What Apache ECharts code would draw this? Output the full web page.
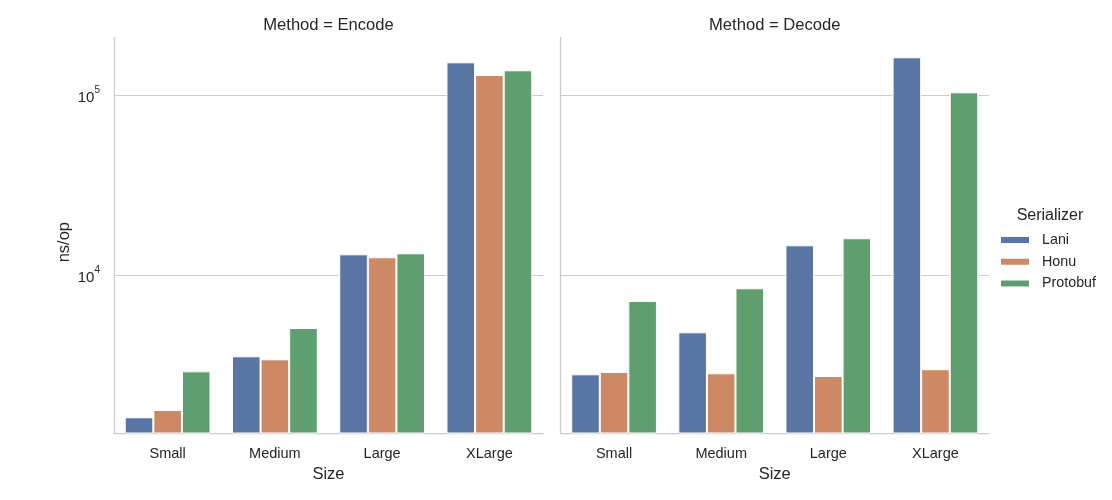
<!DOCTYPE html>
<html>
<head>
<meta charset="utf-8">
<script src="https://cdn.jsdelivr.net/npm/echarts@6/dist/echarts.min.js"></script>
<style>html,body{margin:0;padding:0;background:#fff}#c{width:1112px;height:500px}</style>
</head>
<body>
<div id="c"></div>
<script>
const sizes = ['Small', 'Medium', 'Large', 'XLarge'];
const serializers = ['Lani', 'Honu', 'Protobuf'];
const methods = ['Encode', 'Decode'];
const yTickExponents = [4, 5];

const encodeLani = [1626, 3548, 13080, 152500];
const encodeHonu = [1786, 3415, 12590, 129700];
const encodeProtobuf = [2929, 5096, 13250, 137700];

const decodeLani = [2818, 4823, 14680, 162600];
const decodeHonu = [2904, 2855, 2758, 3006];
const decodeProtobuf = [7195, 8470, 16060, 103900];

const colors = ['#5975a4', '#cc8963', '#5f9e6e'];
const font = 'Liberation Sans, Arial, sans-serif';
const textColor = '#262626';
const lineColor = '#cccccc';

const chart = echarts.init(document.getElementById('c'), null, { renderer: 'canvas' });

const grids = [
  { left: 114, top: 37.3, width: 429, height: 395.7 },
  { left: 560.5, top: 37.3, width: 428.5, height: 395.7 }
];

function yAxis(idx, showLabels) {
  return {
    type: 'log', logBase: 10, gridIndex: idx,
    min: 1330, max: 210000,
    name: showLabels ? 'ns/op' : '',
    nameLocation: 'middle', nameGap: 41,
    nameTextStyle: { fontFamily: font, fontSize: 16.5, color: textColor, padding: [0, 14, 0, 0] },
    axisLine: { show: true, lineStyle: { color: lineColor, width: 1.25 } },
    axisTick: { show: false },
    splitLine: { show: true, showMinLine: false, showMaxLine: false, lineStyle: { color: lineColor, width: 1 } },
    minorTick: { show: false },
    axisLabel: {
      show: showLabels, showMinLabel: false, showMaxLabel: false, margin: 14,
      fontFamily: font, color: textColor,
      formatter: function (v) {
        const l = Math.log10(v);
        const e = Math.round(l);
        if (Math.abs(l - e) > 1e-6 || yTickExponents.indexOf(e) < 0) return '';
        return '{b|10}{s|' + e + '}';
      },
      rich: {
        b: { fontFamily: font, fontSize: 15, color: textColor, padding: [6, 0, 0, 0], verticalAlign: 'bottom' },
        s: { fontFamily: font, fontSize: 10, color: textColor, verticalAlign: 'top' }
      }
    }
  };
}

function xAxis(idx) {
  return {
    type: 'category', gridIndex: idx, data: sizes,
    name: 'Size', nameLocation: 'middle', nameGap: 32,
    nameTextStyle: { fontFamily: font, fontSize: 16.5, color: textColor },
    axisLine: { show: true, lineStyle: { color: lineColor, width: 1.25 } },
    axisTick: { show: false },
    splitLine: { show: false },
    axisLabel: { margin: 13, fontFamily: font, fontSize: 14.5, color: textColor }
  };
}

const data = [
  [encodeLani, encodeHonu, encodeProtobuf],
  [decodeLani, decodeHonu, decodeProtobuf]
];

const series = [];
for (let g = 0; g < 2; g++) {
  for (let s = 0; s < 3; s++) {
    series.push({
      type: 'bar', name: serializers[s], xAxisIndex: g, yAxisIndex: g,
      data: data[g][s],
      barGap: '0%', barCategoryGap: '20%',
      itemStyle: { color: colors[s], borderColor: '#ffffff', borderWidth: 1 },
      emphasis: { disabled: true },
      animation: false
    });
  }
}

const titleStyle = { fontFamily: font, fontSize: 16.6, fontWeight: 'normal', color: textColor };

chart.setOption({
  backgroundColor: '#ffffff',
  animation: false,
  color: colors,
  title: [
    { text: 'Method = ' + methods[0], left: 328.5, top: 16.5, textAlign: 'center', padding: 0, textStyle: titleStyle },
    { text: 'Method = ' + methods[1], left: 774.75, top: 16.5, textAlign: 'center', padding: 0, textStyle: titleStyle },
    { text: 'Serializer', left: 1050, top: 207.5, textAlign: 'center', padding: 0,
      textStyle: { fontFamily: font, fontSize: 16, fontWeight: 'normal', color: textColor } }
  ],
  legend: {
    data: serializers, orient: 'vertical', left: 999, top: 233, padding: 0,
    icon: 'rect', itemWidth: 30, itemHeight: 8, itemGap: 7.7,
    selectedMode: false,
    textStyle: { fontFamily: font, fontSize: 14.3, color: textColor, lineHeight: 14, padding: [0, 0, 0, 7] }
  },
  grid: grids,
  xAxis: [xAxis(0), xAxis(1)],
  yAxis: [yAxis(0, true), yAxis(1, false)],
  series: series
});
</script>
</body>
</html>
